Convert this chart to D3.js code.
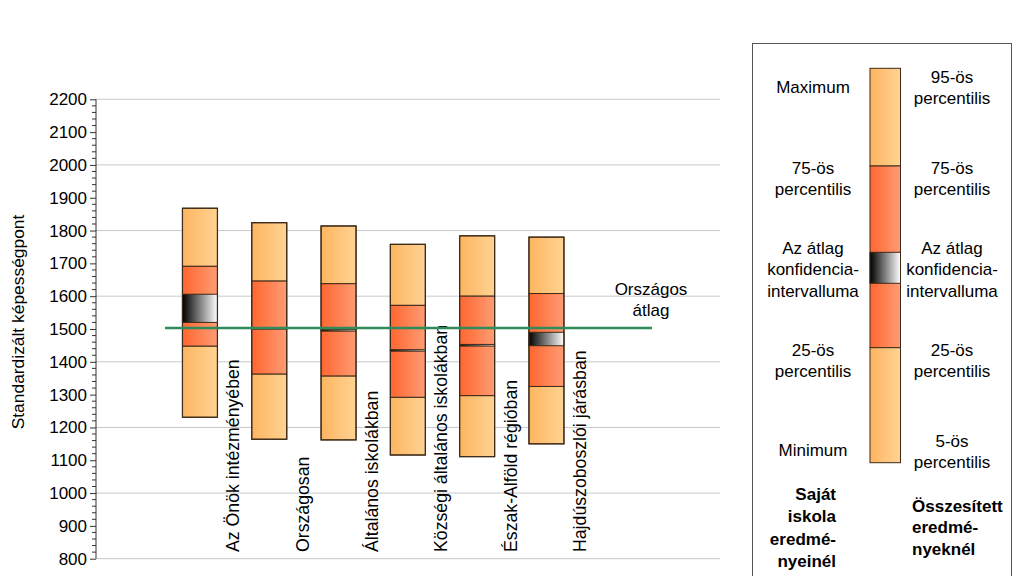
<!DOCTYPE html>
<html><head><meta charset="utf-8">
<script src="https://cdn.jsdelivr.net/npm/d3@7"></script>
<style>body{margin:0;background:#fff}svg{display:block;font-family:"Liberation Sans",Arial,sans-serif}</style>
</head><body><svg id="c" width="1024" height="576"></svg>
<script>
const categories = ["Az Önök intézményében","Országosan","Általános iskolákban","Községi általános iskolákban","Észak-Alföld régióban","Hajdúszoboszlói járásban"];
const minVals   = [1231,1164,1162,1116,1111,1150];
const p25Vals   = [1448,1363,1357,1292,1297,1325];
const ciLow     = [1520,1500,1494,1433,1448,1449];
const ciHigh    = [1606,1504,1498,1437,1453,1490];
const p75Vals   = [1691,1646,1638,1572,1600,1608];
const maxVals   = [1868,1824,1814,1758,1784,1780];
const nationalAvg = 1503;
const yTicks = [800,900,1000,1100,1200,1300,1400,1500,1600,1700,1800,1900,2000,2100,2200];
const gridVals = [800,1000,1200,1400,1600,1800,2000,2200];

const FS = 17;
const svg = d3.select("#c");
const defs = svg.append("defs");
function grad(id, c1, c2){
  const g = defs.append("linearGradient").attr("id",id).attr("x1","0").attr("x2","1").attr("y1","0").attr("y2","0");
  g.append("stop").attr("offset","0").attr("stop-color",c1);
  g.append("stop").attr("offset","1").attr("stop-color",c2);
}
grad("gLight","#fdb560","#ffd393");
grad("gDark","#ff6630","#ff9c74");
grad("gCI","#000000","#ffffff");

const y = d3.scaleLinear().domain([800,2200]).range([558.7,99.3]);
const step = 69.3;
const x = d3.scaleBand().domain(categories).range([96+step, 96+step*7]).paddingInner(0.495).paddingOuter(0.2475);
const bw = x.bandwidth();

// grid
svg.append("g").selectAll("line").data(gridVals).join("line")
  .attr("x1",96).attr("x2",720).attr("y1",d=>y(d)).attr("y2",d=>y(d))
  .attr("stroke","#c8c8c8").attr("stroke-width",1);

// axis
const ax = svg.append("g").attr("transform","translate(96,0)")
  .call(d3.axisLeft(y).tickValues(yTicks).tickSize(6).tickPadding(3).tickFormat(d3.format("d")));
ax.select(".domain").attr("stroke","#333").attr("d","M0,"+y(800)+"V"+y(2200));
ax.selectAll(".tick line").attr("stroke","#333");
ax.selectAll(".tick text").attr("font-size",FS).attr("fill","#000").attr("font-family","Liberation Sans, Arial, sans-serif");
const minor = d3.range(800,2201,20).filter(v=>v%100!==0);
svg.append("g").selectAll("line").data(minor).join("line")
  .attr("x1",92).attr("x2",96).attr("y1",d=>y(d)).attr("y2",d=>y(d)).attr("stroke","#333");

svg.append("text").attr("transform","translate(24,"+322+") rotate(-90)")
  .attr("text-anchor","middle").attr("font-size",17.4).text("Standardizált képességpont");

// bars
const border = "#3d2a18";
categories.forEach((c,i)=>{
  const x0 = x(c);
  const seg = (a,b,fill)=>svg.append("rect").attr("x",x0).attr("width",bw)
     .attr("y",y(b)).attr("height",Math.max(y(a)-y(b),1.2)).attr("fill",fill)
     .attr("stroke",border).attr("stroke-width",1);
  seg(minVals[i],p25Vals[i],"url(#gLight)");
  seg(p75Vals[i],maxVals[i],"url(#gLight)");
  seg(p25Vals[i],p75Vals[i],"url(#gDark)");
  svg.append("rect").attr("x",x0).attr("width",bw).attr("y",y(ciHigh[i])).attr("height",Math.max(y(ciLow[i])-y(ciHigh[i]),1.5))
     .attr("fill","url(#gCI)").attr("stroke",border).attr("stroke-width",1);
  svg.append("rect").attr("x",x0).attr("width",bw).attr("y",y(maxVals[i])).attr("height",y(minVals[i])-y(maxVals[i]))
     .attr("fill","none").attr("stroke",border).attr("stroke-width",1.2);
  svg.append("text").attr("transform","translate("+(x0+bw/2+39.5)+",552) rotate(-90)")
     .attr("font-size",17.7).attr("text-anchor","start").text(c);
});

// national average line
svg.append("line").attr("x1",165).attr("x2",652).attr("y1",y(nationalAvg)).attr("y2",y(nationalAvg))
  .attr("stroke","#2e8b5c").attr("stroke-width",2.5);
svg.append("text").attr("x",651).attr("y",295).attr("text-anchor","middle").attr("font-size",FS).text("Országos");
svg.append("text").attr("x",651).attr("y",316).attr("text-anchor","middle").attr("font-size",FS).text("átlag");

// legend
svg.append("rect").attr("x",752.5).attr("y",43.5).attr("width",259).attr("height",560).attr("fill","#fff").attr("stroke","#555").attr("stroke-width",1);
const ly = {top:68.3,p75:166,ciT:252.3,ciB:283.3,p25:347.7,bot:462.7};
const lx = 870, lw = 30.5;
const lseg=(t,b,f)=>svg.append("rect").attr("x",lx).attr("y",t).attr("width",lw).attr("height",b-t).attr("fill",f).attr("stroke",border).attr("stroke-width",1);
lseg(ly.top,ly.p75,"url(#gLight)");
lseg(ly.p75,ly.p25,"url(#gDark)");
lseg(ly.ciT,ly.ciB,"url(#gCI)");
lseg(ly.p25,ly.bot,"url(#gLight)");

const leftTexts = [[["Maximum"],93],[["75-ös","percentilis"],174],[["Az átlag","konfidencia-","intervalluma"],254],[["25-ös","percentilis"],356],[["Minimum"],456]];
const rightTexts = [[["95-ös","percentilis"],83],[["75-ös","percentilis"],174],[["Az átlag","konfidencia-","intervalluma"],254],[["25-ös","percentilis"],356],[["5-ös","percentilis"],447]];
function block(arr,cx){
  arr.forEach(([lines,y0])=>lines.forEach((t,k)=>svg.append("text").attr("x",cx).attr("y",y0+k*21.3)
    .attr("text-anchor","middle").attr("font-size",FS).text(t)));
}
block(leftTexts,813);
block(rightTexts,952);
["Saját","iskola","eredmé-","nyeinél"].forEach((t,k)=>svg.append("text").attr("x",836).attr("y",500+k*22.3)
  .attr("text-anchor","end").attr("font-size",FS).attr("font-weight","bold").text(t));
["Összesített","eredmé-","nyeknél"].forEach((t,k)=>svg.append("text").attr("x",912).attr("y",512+k*21.3)
  .attr("text-anchor","start").attr("font-size",FS).attr("font-weight","bold").text(t));
</script></body></html>
